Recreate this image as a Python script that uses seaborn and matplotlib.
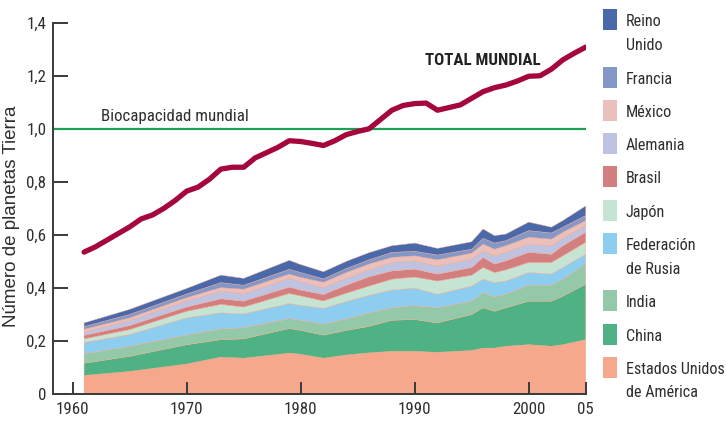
import numpy as np
import pandas as pd
import seaborn as sns
import matplotlib.pyplot as plt
from matplotlib import font_manager as fm
from matplotlib.patches import Rectangle

# -----------------------------
# Data
# -----------------------------
years = [1961, 1965, 1970, 1973, 1975, 1979, 1980, 1982, 1984, 1986, 1988,
         1990, 1992, 1995, 1996, 1997, 1998, 2000, 2002, 2003, 2005]

usa = [0.070, 0.085, 0.113, 0.139, 0.135, 0.154, 0.150, 0.135, 0.147, 0.155, 0.161,
       0.161, 0.157, 0.164, 0.173, 0.173, 0.180, 0.186, 0.180, 0.186, 0.205]
china = [0.046, 0.057, 0.073, 0.066, 0.073, 0.093, 0.090, 0.087, 0.093, 0.100, 0.117,
         0.120, 0.111, 0.136, 0.152, 0.139, 0.145, 0.164, 0.170, 0.183, 0.209]
india = [0.035, 0.038, 0.036, 0.040, 0.042, 0.037, 0.038, 0.041, 0.043, 0.050, 0.047,
         0.052, 0.057, 0.050, 0.057, 0.055, 0.051, 0.060, 0.060, 0.064, 0.076]
rusia = [0.043, 0.044, 0.065, 0.061, 0.052, 0.057, 0.056, 0.060, 0.065, 0.067, 0.067,
         0.066, 0.051, 0.057, 0.051, 0.053, 0.050, 0.048, 0.042, 0.044, 0.037]
japon = [0.014, 0.019, 0.025, 0.032, 0.026, 0.038, 0.036, 0.028, 0.032, 0.035, 0.041,
         0.042, 0.050, 0.041, 0.044, 0.038, 0.042, 0.038, 0.044, 0.044, 0.045]
brasil = [0.013, 0.015, 0.016, 0.021, 0.022, 0.024, 0.022, 0.024, 0.030, 0.035, 0.031,
          0.030, 0.026, 0.029, 0.038, 0.032, 0.034, 0.038, 0.031, 0.038, 0.038]
alemania = [0.013, 0.019, 0.023, 0.029, 0.028, 0.033, 0.032, 0.026, 0.026, 0.026, 0.032,
            0.031, 0.031, 0.031, 0.025, 0.031, 0.032, 0.031, 0.032, 0.028, 0.025]
mexico = [0.010, 0.010, 0.012, 0.013, 0.017, 0.016, 0.016, 0.020, 0.022, 0.022, 0.019,
          0.019, 0.023, 0.023, 0.025, 0.025, 0.025, 0.026, 0.025, 0.023, 0.019]
francia = [0.010, 0.013, 0.014, 0.019, 0.015, 0.018, 0.018, 0.013, 0.015, 0.016, 0.019,
           0.017, 0.018, 0.015, 0.022, 0.023, 0.019, 0.025, 0.023, 0.019, 0.019]
reino_unido = [0.014, 0.019, 0.021, 0.028, 0.026, 0.034, 0.030, 0.027, 0.027, 0.027, 0.025,
               0.031, 0.025, 0.028, 0.035, 0.028, 0.025, 0.032, 0.022, 0.025, 0.036]

total_years = list(range(1961, 2006))
total = [0.535, 0.555, 0.580, 0.605, 0.630, 0.660, 0.675, 0.700, 0.730, 0.765,
         0.780, 0.810, 0.848, 0.855, 0.855, 0.890, 0.910, 0.930, 0.955, 0.952,
         0.945, 0.937, 0.955, 0.978, 0.990, 1.000, 1.035, 1.070, 1.088, 1.095,
         1.097, 1.070, 1.080, 1.090, 1.115, 1.140, 1.155, 1.165, 1.180, 1.198,
         1.200, 1.225, 1.260, 1.285, 1.308]

biocapacity = 1.0

# bottom to top of the stack
countries = ["Estados Unidos\nde América", "China", "India", "Federación\nde Rusia",
             "Japón", "Brasil", "Alemania", "México", "Francia", "Reino\nUnido"]
layers = [usa, china, india, rusia, japon, brasil, alemania, mexico, francia, reino_unido]
colors = ["#f6a88c", "#4fb285", "#93c9a9", "#8dcdf0", "#c6e4d3",
          "#d37f80", "#bdc3e0", "#ebbfba", "#8497c9", "#4a69ab"]

xticks = [1960, 1970, 1980, 1990, 2000, 2005]
xtick_labels = ["1960", "1970", "1980", "1990", "2000", "05"]
yticks = [0, 0.2, 0.4, 0.6, 0.8, 1.0, 1.2, 1.4]
ytick_labels = ["0", "0,2", "0,4", "0,6", "0,8", "1,0", "1,2", "1,4"]

# -----------------------------
# Fonts: pick a condensed face if one is installed
# -----------------------------
names = {f.name for f in fm.fontManager.ttflist}
dejavu_cond = any(f.name == "DejaVu Sans" and "Condensed" in f.fname
                  for f in fm.fontManager.ttflist)
if "Liberation Sans Narrow" in names:
    narrow = dict(family=["Liberation Sans Narrow", "DejaVu Sans"])
    scale = 1.0
elif "Roboto Condensed" in names:
    narrow = dict(family=["Roboto Condensed", "DejaVu Sans"])
    scale = 0.97
elif dejavu_cond:
    narrow = dict(family=["DejaVu Sans"], stretch="condensed")
    scale = 0.9
else:
    narrow = dict(family=["Liberation Sans", "DejaVu Sans"])
    scale = 0.84

sns.set_theme(style="white")
plt.rcParams["font.family"] = narrow["family"]
if "stretch" in narrow:
    plt.rcParams["font.stretch"] = narrow["stretch"]
text_color = "#2e2e2e"
axis_color = "#3a3a3a"

# -----------------------------
# Figure
# -----------------------------
W, H = 726, 422
fig = plt.figure(figsize=(W / 100, H / 100), dpi=100)
ax = fig.add_axes([53.3 / W, 28 / H, 532.4 / W, 371.3 / H])

ax.stackplot(years, *layers, colors=colors, linewidth=0.3, edgecolors=colors)
ax.axhline(biocapacity, color="#1f9e57", lw=1.6, zorder=3)

df_total = pd.DataFrame({"year": total_years, "total": total})
sns.lineplot(data=df_total, x="year", y="total", color="#a5073c", lw=3.8,
             ax=ax, zorder=4, solid_capstyle="round", solid_joinstyle="round")

ax.set_xlim(1958.3, 2005)
ax.set_ylim(0, 1.4)
ax.set_xticks(xticks, xtick_labels)
ax.set_yticks(yticks, ytick_labels)
ax.set_xlabel("")
ax.set_ylabel("")

for side in ["top", "right"]:
    ax.spines[side].set_visible(False)
for side in ["left", "bottom"]:
    ax.spines[side].set_color(axis_color)
    ax.spines[side].set_linewidth(1.4)
    ax.spines[side].set_zorder(5)
tick_fs = 12.5 * scale
ax.tick_params(axis="y", left=True, direction="in", length=11, width=1.4,
               color=axis_color, pad=5, labelsize=tick_fs, labelcolor=text_color)
ax.tick_params(axis="x", bottom=True, direction="in", length=9, width=1.4,
               color=axis_color, pad=6, labelsize=tick_fs, labelcolor=text_color)
ax.set_axisbelow(False)

ax.text(1962.5, 1.03, "Biocapacidad mundial", fontsize=12.5 * scale, color=text_color,
        va="baseline", ha="left")
ax.text(1990.9, 1.24, "TOTAL MUNDIAL", fontsize=12.5 * scale, fontweight="bold",
        color="#222222", va="baseline", ha="left")

fig.text(12 / W, 1 - 216 / H, "Número de planetas Tierra", rotation=90,
         fontsize=13.5, color=text_color, ha="center", va="center",
         family=["Liberation Sans", "DejaVu Sans"], stretch="normal")

# -----------------------------
# Legend (top entry = top layer)
# -----------------------------
y_center = 19.7
for name, col in zip(countries[::-1], colors[::-1]):
    fig.add_artist(Rectangle((603 / W, 1 - (y_center + 10.5) / H), 14 / W, 21 / H,
                             transform=fig.transFigure, color=col, lw=0))
    lines = name.split("\n")
    for k, line in enumerate(lines):
        fig.text(626 / W, 1 - (y_center + 6.5 + 23.5 * k) / H, line,
                 fontsize=12 * scale, color=text_color, va="baseline", ha="left")
    y_center += 33.3 + 24 * (len(lines) - 1)

fig.savefig("out.png", dpi=100)
